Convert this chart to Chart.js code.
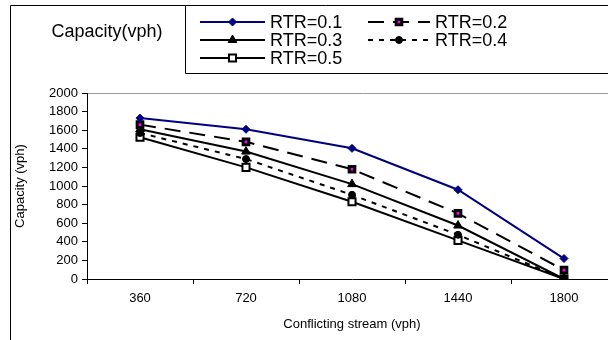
<!DOCTYPE html>
<html>
<head>
<meta charset="utf-8">
<script src="https://cdn.jsdelivr.net/npm/chart.js@4"></script>
<style>
  html, body { margin: 0; padding: 0; background: #fff; overflow: hidden; }
  #wrap { width: 608px; height: 340px; overflow: hidden; }
</style>
</head>
<body>
<div id="wrap"><canvas id="chart" width="640" height="340"></canvas></div>
<script>
const flows = ["360", "720", "1080", "1440", "1800"];
const rtr01 = [1730, 1610, 1405, 960, 220];
const rtr02 = [1660, 1475, 1180, 705, 95];
const rtr03 = [1610, 1370, 1020, 575, 0];
const rtr04 = [1570, 1290, 905, 475, 0];
const rtr05 = [1525, 1200, 830, 415, 0];
const seriesNames = ["RTR=0.1", "RTR=0.2", "RTR=0.3", "RTR=0.4", "RTR=0.5"];

const FONT = "'Liberation Sans', Arial, sans-serif";

const values = [rtr01, rtr02, rtr03, rtr04, rtr05];
const styles = [
  { color: "#000080", dash: [], point: "rectRot", r: 4, bg: "#000080", bw: 1 },
  { color: "#000000", dash: [16, 9], point: "rect", r: 4, bg: "#ff00ff", bw: 3 },
  { color: "#000000", dash: [], point: "triangle", r: 5, bg: "#000000", bw: 1 },
  { color: "#000000", dash: [5, 6], point: "circle", r: 3.5, bg: "#000000", bw: 1 },
  { color: "#000000", dash: [], point: "rect", r: 5, bg: "#ffffff", bw: 2 }
];

const datasets = values.map((v, i) => ({
  label: seriesNames[i],
  data: v,
  borderColor: styles[i].color,
  borderWidth: 2,
  borderDash: styles[i].dash,
  pointStyle: styles[i].point,
  pointRadius: styles[i].r,
  pointBackgroundColor: styles[i].bg,
  pointBorderColor: styles[i].color,
  pointBorderWidth: styles[i].bw,
  tension: 0,
  fill: false
}));

// frame, title and legend box like the spreadsheet export
const decor = {
  id: "decor",
  beforeDraw(chart) {
    const ctx = chart.ctx;
    const a = chart.chartArea;
    ctx.save();
    ctx.strokeStyle = "#999";
    ctx.lineWidth = 1;
    ctx.beginPath();
    ctx.moveTo(a.left, a.top + 0.5);
    ctx.lineTo(chart.width, a.top + 0.5);
    ctx.stroke();
    ctx.restore();
  },
  afterDraw(chart) {
    const ctx = chart.ctx;
    ctx.save();
    ctx.strokeStyle = "#000";
    ctx.lineWidth = 1;
    // outer frame, cut off on the right and bottom
    ctx.beginPath();
    ctx.moveTo(10.5, chart.height + 2);
    ctx.lineTo(10.5, 5.5);
    ctx.lineTo(chart.width, 5.5);
    ctx.stroke();
    // legend box
    ctx.beginPath();
    ctx.moveTo(185.5, 5.5);
    ctx.lineTo(185.5, 73.5);
    ctx.lineTo(chart.width, 73.5);
    ctx.stroke();

    ctx.fillStyle = "#000";
    ctx.font = "18px " + FONT;
    ctx.textBaseline = "middle";
    ctx.textAlign = "center";
    ctx.fillText("Capacity(vph)", 107, 32);

    const slots = [
      [200, 265, 22], [368, 430, 22],
      [200, 265, 40], [368, 430, 40],
      [200, 265, 58]
    ];
    chart.data.datasets.forEach((ds, i) => {
      const [x0, x1, y] = slots[i];
      ctx.save();
      ctx.strokeStyle = ds.borderColor;
      ctx.lineWidth = ds.borderWidth;
      ctx.setLineDash(ds.borderDash || []);
      ctx.beginPath();
      ctx.moveTo(x0, y);
      ctx.lineTo(x1, y);
      ctx.stroke();
      ctx.setLineDash([]);
      ctx.fillStyle = ds.pointBackgroundColor;
      ctx.strokeStyle = ds.pointBorderColor;
      ctx.lineWidth = ds.pointBorderWidth;
      Chart.helpers.drawPoint(ctx, {
        pointStyle: ds.pointStyle,
        radius: ds.pointRadius,
        rotation: 0,
        borderWidth: ds.pointBorderWidth
      }, (x0 + x1) / 2, y);
      ctx.restore();
      ctx.fillStyle = "#000";
      ctx.font = "18px " + FONT;
      ctx.textAlign = "left";
      ctx.textBaseline = "middle";
      ctx.fillText(ds.label, x1 + 5, y + 1);
    });
    ctx.restore();
  }
};

new Chart(document.getElementById("chart"), {
  type: "line",
  data: { labels: flows, datasets: datasets },
  plugins: [decor],
  options: {
    responsive: false,
    animation: false,
    devicePixelRatio: 1,
    layout: { padding: { left: 9, top: 93, right: 23, bottom: 0 } },
    plugins: { legend: { display: false }, tooltip: { enabled: false } },
    scales: {
      x: {
        offset: true,
        grid: { offset: true, drawOnChartArea: false, drawTicks: true, tickLength: 5, color: "#000" },
        border: { color: "#000", width: 1 },
        ticks: { color: "#000", font: { family: FONT, size: 13 }, padding: 7, maxRotation: 0 },
        title: { display: true, text: "Conflicting stream (vph)", color: "#000", font: { family: FONT, size: 13 }, padding: { top: 4, bottom: 8 } },
        afterFit(scale) { scale.height = 61; }
      },
      y: {
        min: 0,
        max: 2000,
        ticks: { stepSize: 200, color: "#000", font: { family: FONT, size: 13 }, padding: 4, callback: (v) => String(v) },
        grid: { drawOnChartArea: false, drawTicks: true, tickLength: 5, color: "#000" },
        border: { color: "#000", width: 1 },
        title: { display: true, text: "Capacity (vph)", color: "#000", font: { family: FONT, size: 13 }, padding: { top: 4, bottom: 0 } },
        afterFit(scale) { scale.width = 78; }
      }
    }
  }
});
</script>
</body>
</html>
